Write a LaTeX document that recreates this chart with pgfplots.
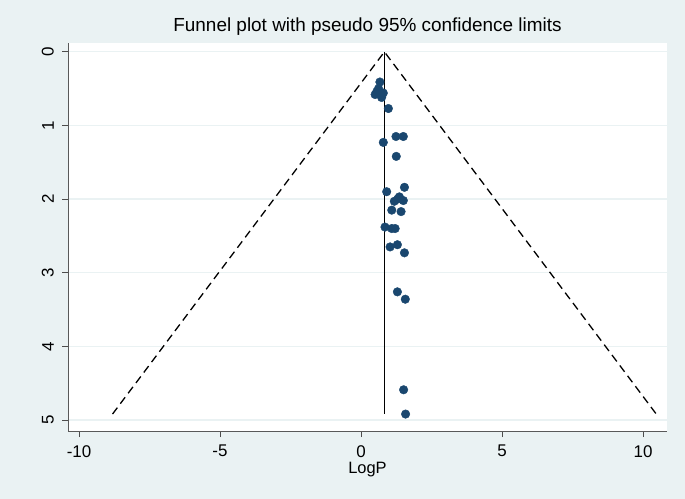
\documentclass[border=0pt]{standalone}
\usepackage{fontspec}
\setmainfont{Liberation Sans}
\usepackage{pgfplots}
\pgfplotsset{compat=1.18}
\definecolor{bgc}{RGB}{234,242,243}
\definecolor{gridc}{RGB}{234,242,243}
\definecolor{navy}{RGB}{26,71,111}
\begin{document}
\begin{tikzpicture}[x=1bp,y=1bp]
\fill[bgc] (0,0) rectangle (685,499);
\begin{axis}[
  scale only axis, width=599bp, height=388bp,
  at={(68bp,68bp)}, anchor=south west,
  xmin=-10.39, xmax=10.85, ymin=-0.12, ymax=5.15,
  y dir=reverse,
  axis background/.style={fill=white},
  axis line style={draw=none},
  xtick={-10,-5,0,5,10}, ytick={0,1,2,3,4,5},
  tick align=outside, major tick length=6bp,
  xtick pos=left, ytick pos=left,
  tick style={black!70, line width=0.8bp},
  ymajorgrids, grid style={gridc, line width=1.2bp},
  ticklabel style={font=\fontsize{17}{20}\selectfont, inner sep=0pt},
  /pgf/number format/assume math mode=true,
  xticklabel style={yshift=-8bp},
  yticklabel style={rotate=90, anchor=south, yshift=8bp},
  xlabel={LogP},
  xlabel style={font=\fontsize{16.5}{20}\selectfont, inner sep=0pt, at={(0.5,0)}, anchor=base, yshift=-42.5bp},
  title={Funnel plot with pseudo 95\% confidence limits},
  title style={font=\fontsize{19}{22}\selectfont, at={(0.5,1)}, anchor=base, yshift=6bp},
  clip=false,
]
\addplot[black, line width=1.3bp, dash pattern=on 8bp off 5bp] coordinates {(-8.81,4.92) (0.83,0) (10.47,4.92)};
\addplot[black, line width=1.7bp] coordinates {(0.83,0) (0.83,4.92)};
\addplot[only marks, mark=*, mark size=4.3bp, mark options={fill=navy, draw=navy}] coordinates {
(0.67,0.41) (0.56,0.54) (0.50,0.58) (0.67,0.56) (0.79,0.56) (0.73,0.62) (0.62,0.50)
(0.97,0.77) (1.24,1.15) (1.50,1.15) (0.79,1.23) (1.25,1.42)
(1.54,1.84) (0.91,1.90) (1.36,1.97) (1.50,2.02) (1.18,2.03) (1.30,2.00)
(1.09,2.15) (1.42,2.17) (0.85,2.38) (1.09,2.40) (1.21,2.40)
(1.03,2.65) (1.29,2.62) (1.54,2.73) (1.29,3.26) (1.57,3.36)
(1.51,4.59) (1.58,4.92)
};
\draw[black!65, line width=1bp] (rel axis cs:0,0) -- (rel axis cs:0,1);
\draw[black!65, line width=1bp] (rel axis cs:0,0) -- (rel axis cs:1,0);
\end{axis}
\end{tikzpicture}
\end{document}
